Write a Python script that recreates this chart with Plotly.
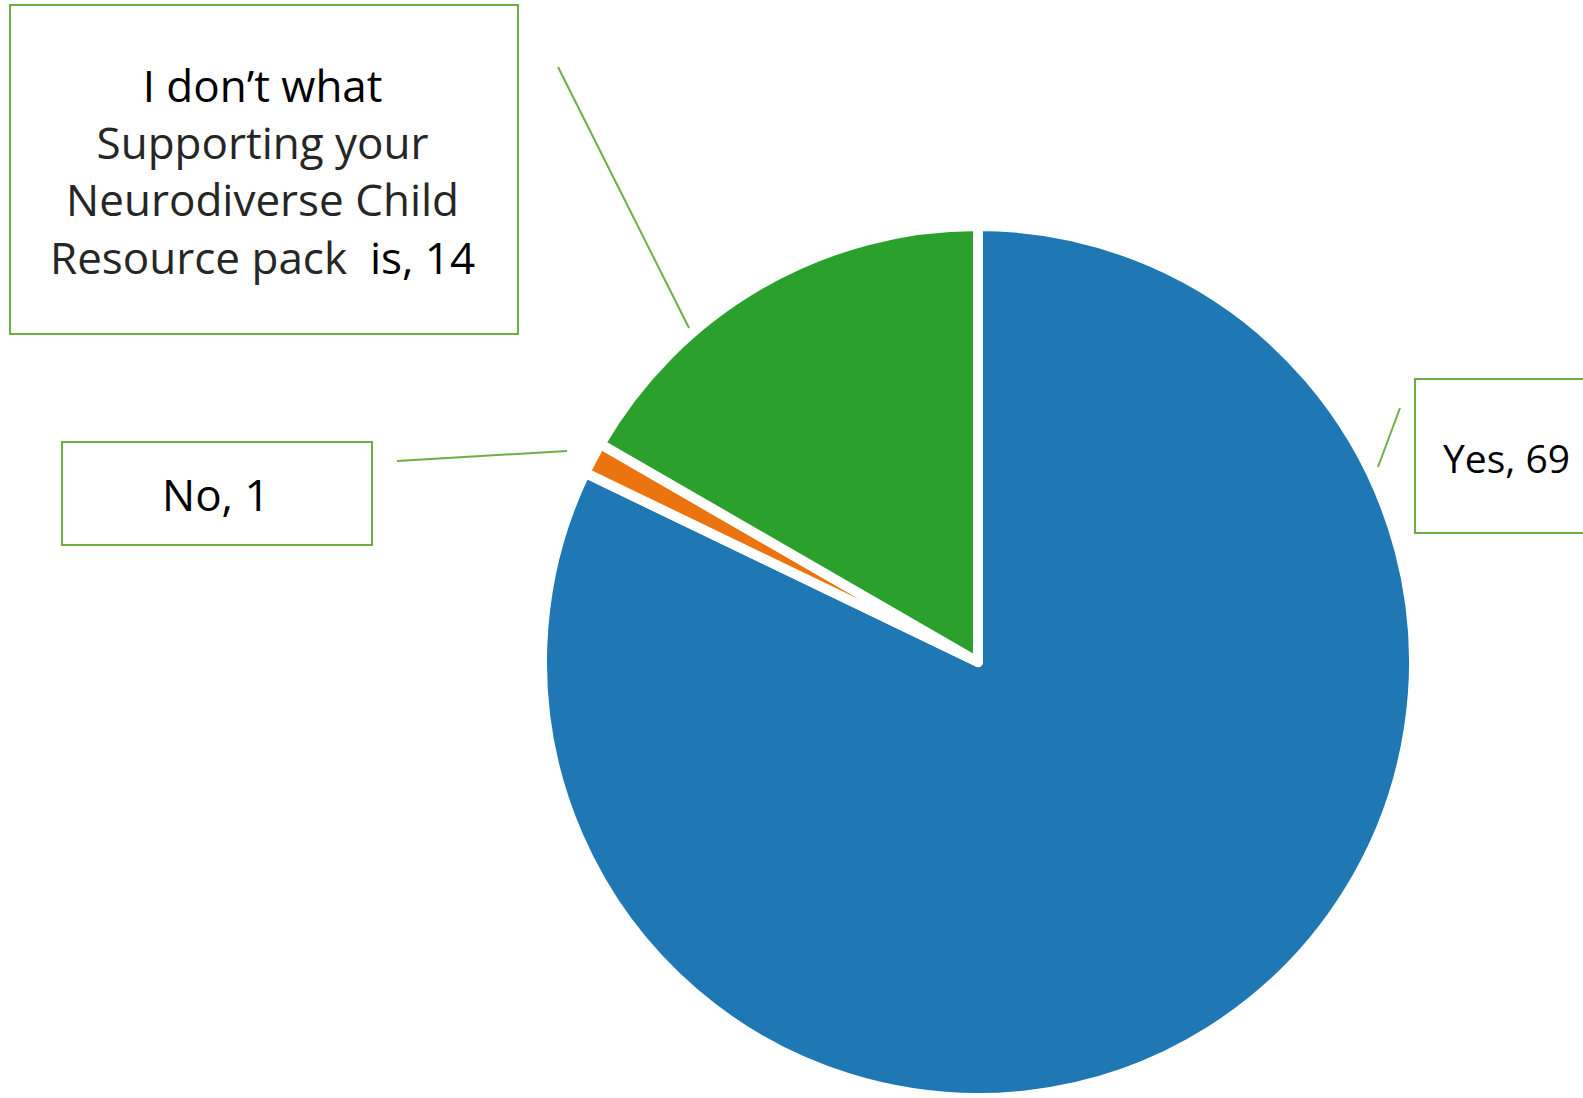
import plotly.graph_objects as go

W, H = 1583, 1098

labels = ["Yes", "No", "I don’t what Supporting your Neurodiverse Child Resource pack  is"]
values = [69, 1, 14]
colors = ["#1F77B4", "#EC7410", "#2CA02C"]

BOX_GREEN = "#70AD47"
FONT = "Open Sans"
FS = 44

def px(x):
    return x / W

def py(y):
    return 1 - y / H

CX, CY, R = 978, 667, 441   # domain half-size (plotly draws slightly inside it)

fig = go.Figure()
fig.add_trace(go.Pie(
    labels=labels, values=values, sort=False, direction="clockwise", rotation=0,
    marker=dict(colors=colors, line=dict(color="white", width=10)),
    textinfo="none", hoverinfo="label+value", showlegend=False,
    domain=dict(x=[px(CX - R), px(CX + R)], y=[max(0, py(CY + R)), py(CY - R)]),
))

shapes = []
for (x0, y0, x1, y1) in [(10, 5, 518, 334), (62, 442, 372, 545), (1415, 379, 1600, 533)]:
    shapes.append(dict(type="rect", xref="paper", yref="paper",
                       x0=px(x0), x1=px(x1), y0=py(y1), y1=py(y0),
                       line=dict(color=BOX_GREEN, width=2), fillcolor="rgba(0,0,0,0)"))
for (x0, y0, x1, y1) in [(558, 67, 689, 328), (397, 461, 567, 451), (1400, 408, 1378, 467)]:
    shapes.append(dict(type="line", xref="paper", yref="paper",
                       x0=px(x0), x1=px(x1), y0=py(y0), y1=py(y1),
                       line=dict(color=BOX_GREEN, width=2)))

dark = "#262626"
ann_text = ("<span style='color:black'>I don’t what</span><br>"
            f"<span style='color:{dark}'>Supporting your</span><br>"
            f"<span style='color:{dark}'>Neurodiverse Child</span><br>"
            f"<span style='color:{dark}'>Resource pack</span>  <span style='color:black'>is, {values[2]}</span>")

annotations = [
    dict(text=ann_text, x=px(262), y=py(171), xref="paper", yref="paper",
         showarrow=False, font=dict(family=FONT, size=FS, color="black"),
         align="center", xanchor="center", yanchor="middle"),
    dict(text=f"{labels[1]}, {values[1]}", x=px(216), y=py(494), xref="paper", yref="paper",
         showarrow=False, font=dict(family=FONT, size=FS, color="black"),
         xanchor="center", yanchor="middle"),
    dict(text=f"{labels[0]}, {values[0]}", x=px(1441), y=py(457), xref="paper", yref="paper",
         showarrow=False, font=dict(family=FONT, size=39, color="black"),
         xanchor="left", yanchor="middle"),
]

fig.update_layout(width=W, height=H, margin=dict(l=0, r=0, t=0, b=0),
                  paper_bgcolor="white", plot_bgcolor="white",
                  shapes=shapes, annotations=annotations)

fig.write_html("out.html", config={"displayModeBar": False},
               post_script="document.body.style.margin='0';document.body.style.overflow='hidden';")
